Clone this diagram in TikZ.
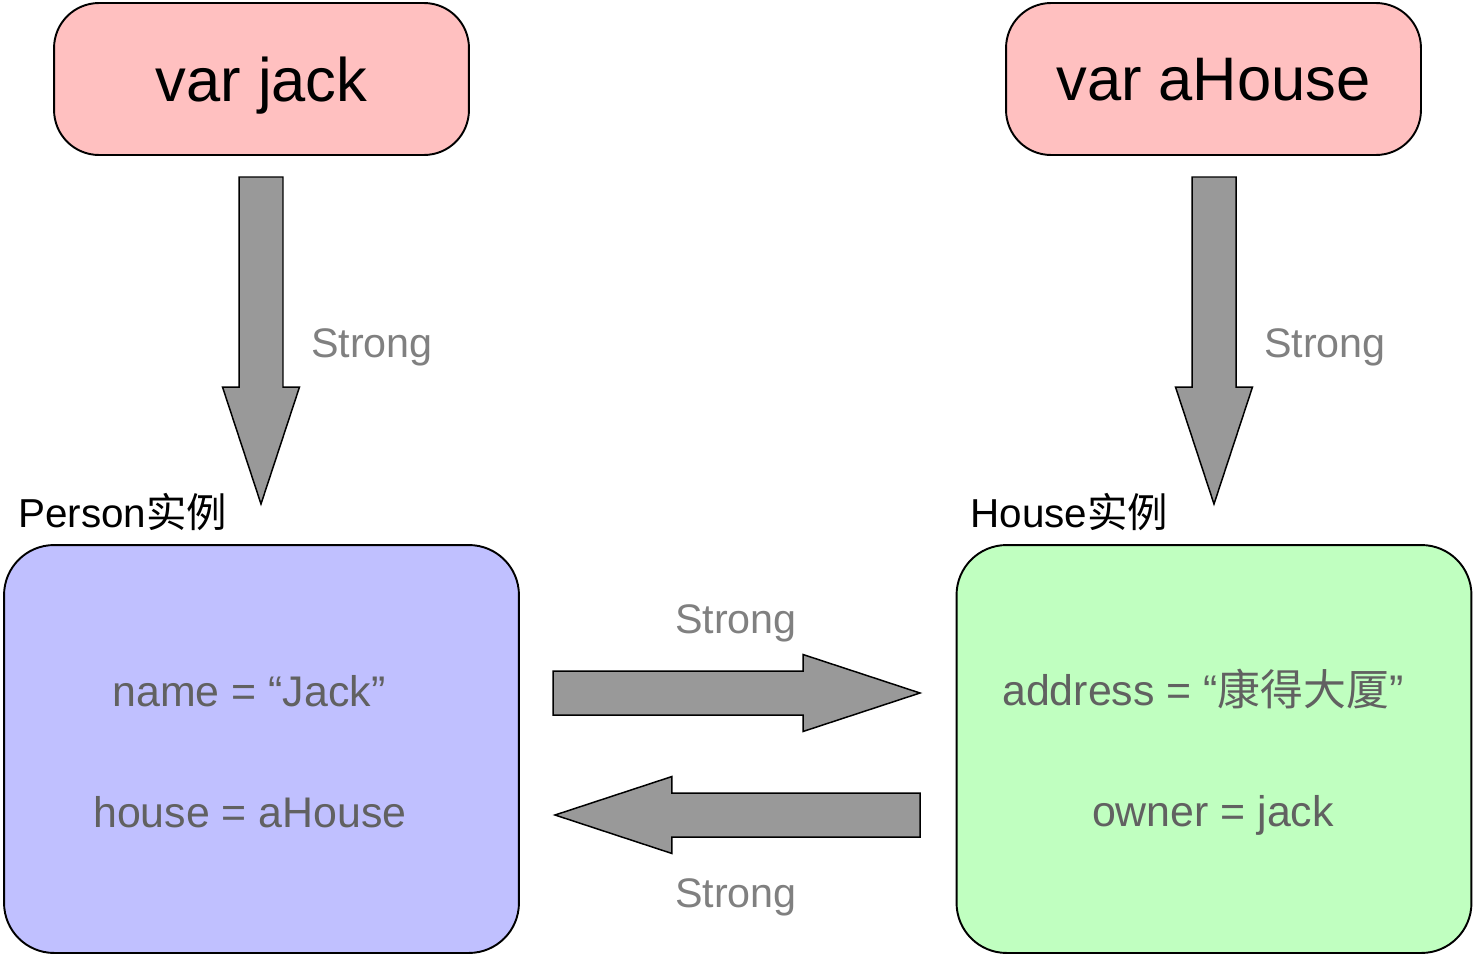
\documentclass[tikz,border=0pt]{standalone}
\usepackage{fontspec}
\setmainfont{Liberation Sans}
\newfontfamily\cjk{Noto Sans CJK SC}
\usetikzlibrary{calc}

\definecolor{varpink}{RGB}{255,192,192}
\definecolor{personblue}{RGB}{192,192,255}
\definecolor{housegreen}{RGB}{192,255,192}
\definecolor{arrowgray}{RGB}{153,153,153}
\definecolor{fieldgray}{RGB}{97,97,97}
\definecolor{stronggray}{RGB}{128,128,128}

\tikzset{
  varbox/.style={draw, line width=1.1pt, rounded corners=0.9cm, fill=varpink,
    minimum width=8.3cm, minimum height=3.04cm, text depth=0pt,
    font=\fontsize{35}{40}\selectfont},
  objbox/.style={draw, line width=1.1pt, rounded corners=1cm,
    minimum width=10.3cm, minimum height=8.16cm},
  caption/.style={anchor=base west, inner sep=0pt, font=\fontsize{23}{27}\selectfont},
  field/.style={anchor=base, inner sep=0pt, text=fieldgray, font=\fontsize{24.4}{29}\selectfont},
  strongtext/.style={anchor=base, inner sep=0pt, text=stronggray, font=\fontsize{23.5}{28}\selectfont},
  bigarrow/.style={draw, line width=0.85pt, fill=arrowgray, line join=miter},
}

% block arrow from one coordinate to another
\newcommand\blockarrow[2]{%
  \path let \p1=(#1), \p2=(#2) in \pgfextra{%
    \pgfmathsetmacro\arrlen{veclen(\x2-\x1,\y2-\y1)}%
    \pgfmathsetmacro\arrang{atan2(\y2-\y1,\x2-\x1)}%
    \xdef\arrlen{\arrlen}\xdef\arrang{\arrang}};
  \draw[bigarrow, shift={(#1)}, rotate=\arrang]
    (0pt,-0.44cm) -- ({\arrlen pt-2.34cm},-0.44cm) -- ({\arrlen pt-2.34cm},-0.77cm)
    -- (\arrlen pt,0pt) -- ({\arrlen pt-2.34cm},0.77cm) -- ({\arrlen pt-2.34cm},0.44cm)
    -- (0pt,0.44cm) -- cycle;}

\begin{document}
\begin{tikzpicture}[x=0.02cm, y=-0.02cm]
\useasboundingbox (0,0) rectangle (1475,957);
% variables
\node[varbox] (jack) at (261.5,79) {var jack};
\node[varbox] (ahouse) at (1213.5,79) {var aHouse};
% instances
\node[objbox, fill=personblue] (person) at (261.5,749) {};
\node[objbox, fill=housegreen] (house) at (1214,749) {};
\node[caption] (personlbl) at (18,527) {Person{\cjk 实例}};
\node[caption] (houselbl) at (970,527) {House{\cjk 实例}};
% fields
\node[field] (pname) at (249,706) {name =\ “Jack”};
\node[field] (phouse) at (250,827) {house = aHouse};
\node[field] (haddress) at (1203,705) {address = “{\cjk 康得大厦}”};
\node[field] (howner) at (1213,826) {owner = jack};
% references
\coordinate (jackfrom) at (261,177);
\coordinate (jackto) at (261,504);
\coordinate (ahousefrom) at (1214,177);
\coordinate (ahouseto) at (1214,504);
\coordinate (ownerfrom) at (553,693);
\coordinate (ownerto) at (920,693);
\coordinate (housefrom) at (920,815);
\coordinate (houseto) at (555,815);
\blockarrow{jackfrom}{jackto}
\blockarrow{ahousefrom}{ahouseto}
\blockarrow{ownerfrom}{ownerto}
\blockarrow{housefrom}{houseto}
\node[strongtext] (sjack) at (372,357) {Strong};
\node[strongtext] (sahouse) at (1325,357) {Strong};
\node[strongtext] (sowner) at (736,633) {Strong};
\node[strongtext] (shouse) at (736,907) {Strong};
\end{tikzpicture}
\end{document}
